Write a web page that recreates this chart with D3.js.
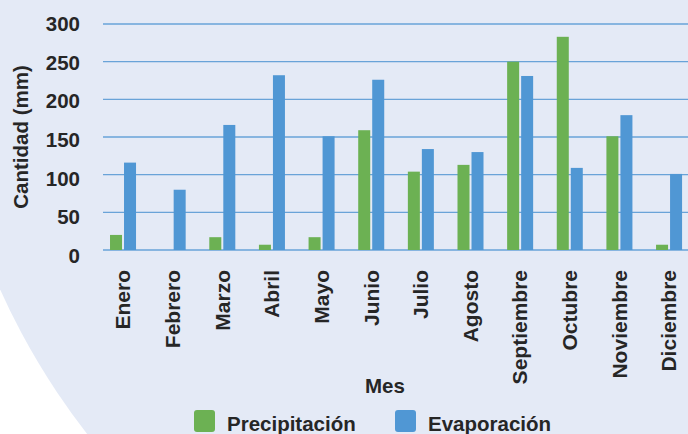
<!DOCTYPE html>
<html>
<head>
<meta charset="utf-8">
<script src="https://cdn.jsdelivr.net/npm/d3@7"></script>
<style>
html,body{margin:0;padding:0;background:#ffffff;}
svg{display:block;}
text{font-family:"Liberation Sans",Arial,Helvetica,sans-serif;font-weight:bold;fill:#262626;}
</style>
</head>
<body>
<svg id="chart" width="688" height="434"></svg>
<script>
const months = ["Enero","Febrero","Marzo","Abril","Mayo","Junio","Julio","Agosto","Septiembre","Octubre","Noviembre","Diciembre"];
const seriesNames = ["Precipitación","Evaporación"];
const precipitacion = [20, 0, 17, 7, 17, 159, 104, 113, 250, 283, 151, 7];
const evaporacion = [116, 80, 166, 232, 151, 226, 134, 130, 231, 109, 179, 101];
const yTicks = [0, 50, 100, 150, 200, 250, 300];
const colors = ["#6cb153", "#5097d4"];

const svg = d3.select("#chart");
const W = 688, H = 434;

// background shape
svg.append("rect").attr("width", W).attr("height", H).attr("fill", "#ffffff");
svg.append("circle").attr("cx", 644).attr("cy", 0).attr("r", 706).attr("fill", "#e4eaf6");

const plotLeft = 103, plotRight = 688;
const y = d3.scaleLinear().domain([0, 300]).range([250, 24]);
// tick labels in the reference sit on a slightly wider spacing than the gridlines
const yLabel = d3.scaleLinear().domain([0, 300]).range([256, 24]);
const x = d3.scaleBand().domain(months).range([98.2, 98.2 + 12 * 49.64]).paddingInner(0.476).paddingOuter(0.238);
const xs = d3.scaleBand().domain(seriesNames).range([0, x.bandwidth()]).paddingInner(1/7);

// gridlines
svg.append("g").selectAll("line").data(yTicks).join("line")
  .attr("x1", plotLeft).attr("x2", plotRight)
  .attr("y1", d => y(d)).attr("y2", d => y(d))
  .attr("stroke", "#5b9bd5").attr("stroke-width", 1.4).attr("stroke-opacity", 0.9);

// y axis labels
const yAxis = d3.axisLeft(yLabel).tickValues(yTicks).tickSize(0).tickPadding(0);
const gy = svg.append("g").attr("transform", "translate(80,0)").call(yAxis);
gy.select(".domain").remove();
gy.selectAll("text").attr("font-size", 20.5).attr("fill", "#262626")
  .style("font-family", '"Liberation Sans",Arial,sans-serif').style("font-weight", "bold");

// bars
const data = months.map((m, i) => ({m, vals: [precipitacion[i], evaporacion[i]]}));
const groups = svg.append("g").selectAll("g").data(data).join("g")
  .attr("transform", d => `translate(${x(d.m)},0)`);
groups.selectAll("rect").data(d => d.vals.map((v, k) => ({v, k}))).join("rect")
  .attr("x", d => xs(seriesNames[d.k]))
  .attr("width", xs.bandwidth())
  .attr("y", d => y(d.v))
  .attr("height", d => y(0) - y(d.v))
  .attr("fill", d => colors[d.k]);

// x axis labels
const xAxis = d3.axisBottom(x).tickSize(0).tickPadding(0);
const gx = svg.append("g").attr("transform", "translate(0,270)").call(xAxis);
gx.select(".domain").remove();
gx.selectAll("text")
  .attr("font-size", 21).attr("fill", "#262626")
  .style("font-family", '"Liberation Sans",Arial,sans-serif').style("font-weight", "bold")
  .attr("text-anchor", "end")
  .attr("transform", "rotate(-90)")
  .attr("x", 0).attr("y", 0).attr("dy", "0.35em");

// axis titles
svg.append("text").attr("transform", "translate(28,137) rotate(-90)")
  .attr("text-anchor", "middle").attr("font-size", 20.5).text("Cantidad (mm)");
svg.append("text").attr("x", 385).attr("y", 393)
  .attr("text-anchor", "middle").attr("font-size", 20.5).text("Mes");

// legend
const legendX = [194, 395];
const lg = svg.append("g").selectAll("g").data(seriesNames).join("g")
  .attr("transform", (d, i) => `translate(${legendX[i]},410)`);
lg.append("rect").attr("width", 21).attr("height", 22).attr("rx", 3).attr("fill", (d, i) => colors[i]);
lg.append("text").attr("x", 33).attr("y", 21).attr("font-size", 20.5).text(d => d);
</script>
</body>
</html>
